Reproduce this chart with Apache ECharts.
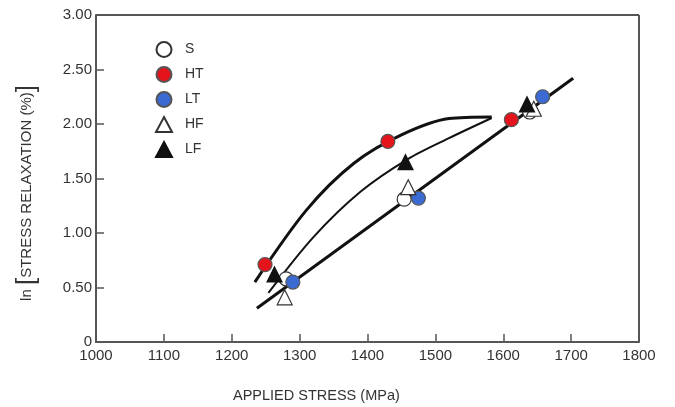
<!DOCTYPE html>
<html><head><meta charset="utf-8">
<script src="https://cdn.jsdelivr.net/npm/echarts@6/dist/echarts.min.js"></script>
<style>html,body{margin:0;padding:0;background:#fff}#c{width:675px;height:407px}</style>
</head><body><div id="c"></div>
<script>
// Data (applied stress MPa, ln stress relaxation %)
const S  = [[1280, 0.58], [1454, 1.31], [1639, 2.11]];
const HT = [[1249, 0.71], [1430, 1.84], [1612, 2.04]];
const LT = [[1290, 0.55], [1475, 1.32], [1658, 2.25]];
const HF = [[1278, 0.41], [1460, 1.42], [1645, 2.14]];
const LF = [[1263, 0.62], [1456, 1.65], [1635, 2.18]];
const lowerLine  = [[1237, 0.31], [1703, 2.42]];
const upperCurve = [[1234, 0.55], [1310, 1.21], [1380, 1.64], [1450, 1.90], [1520, 2.05], [1583, 2.065]];
const middleCurve = [[1254, 0.45], [1320, 0.96], [1390, 1.38], [1460, 1.68], [1520, 1.87], [1583, 2.055]];
const xTicks = [1000, 1100, 1200, 1300, 1400, 1500, 1600, 1700, 1800];
const yTicks = [0, 0.5, 1.0, 1.5, 2.0, 2.5, 3.0];

const chart = echarts.init(document.getElementById('c'), null, {renderer: 'canvas'});
const axisCol = '#555';
const txtCol = '#333';
const font = 'Liberation Sans, Arial, sans-serif';

function scatter(name, data, symbol, color, border) {
  return {
    name, type: 'scatter', data, symbol, symbolSize: symbol === 'triangle' ? 15 : 14,
    itemStyle: {color, borderColor: border, borderWidth: 1.2, opacity: 1}, z: 5
  };
}

chart.setOption({
  animation: false,
  backgroundColor: '#fff',
  grid: {left: 96, right: 36, top: 15, bottom: 65, show: false},
  legend: {
    orient: 'vertical', left: 150, top: 36, itemGap: 8,
    itemWidth: 16, itemHeight: 15,
    textStyle: {fontFamily: font, fontSize: 14, color: txtCol, padding: [0, 0, 0, 8]},
    data: ['S', 'HT', 'LT', 'HF', 'LF']
  },
  xAxis: {
    type: 'value', min: xTicks[0], max: xTicks[xTicks.length - 1], interval: 100,
    axisLine: {show: true, onZero: false, lineStyle: {color: axisCol, width: 2}},
    axisTick: {show: true, inside: true, length: 8, lineStyle: {color: axisCol, width: 1.5}},
    axisLabel: {fontFamily: font, fontSize: 15, color: txtCol, margin: 6, formatter: v => String(v)},
    splitLine: {show: false}
  },
  yAxis: {
    type: 'value', min: yTicks[0], max: yTicks[yTicks.length - 1], interval: 0.5,
    axisLine: {show: true, onZero: false, lineStyle: {color: axisCol, width: 2}},
    axisTick: {show: true, inside: true, length: 8, lineStyle: {color: axisCol, width: 1.5}},
    axisLabel: {fontFamily: font, fontSize: 15, color: txtCol, margin: 4,
      formatter: v => v === 0 ? '0' : v.toFixed(2)},
    splitLine: {show: false}
  },
  graphic: [
    {type: 'line', shape: {x1: 96, y1: 15, x2: 639, y2: 15}, style: {stroke: axisCol, lineWidth: 2}},
    {type: 'line', shape: {x1: 639, y1: 15, x2: 639, y2: 342}, style: {stroke: axisCol, lineWidth: 2}},
    {type: 'text', left: 233, top: 388,
      style: {text: 'APPLIED STRESS (MPa)', font: '14.5px ' + font, fill: txtCol}},
    {type: 'text', x: 27, y: 193, rotation: Math.PI / 2, originX: 0, originY: 0,
      style: {
        text: '{a|ln }{b|[}{a|STRESS RELAXATION (%)}{b|]}',
        align: 'center', verticalAlign: 'middle',
        rich: {
          a: {fontSize: 15, fontFamily: font, fill: txtCol, verticalAlign: 'middle'},
          b: {fontSize: 26, fontFamily: font, fill: txtCol, verticalAlign: 'middle'}
        }
      }}
  ],
  series: [
    {name: 'lower', type: 'line', data: lowerLine, symbol: 'none', lineStyle: {color: '#111', width: 3}, z: 2},
    {name: 'upper', type: 'line', data: upperCurve, symbol: 'none', smooth: 0.3, lineStyle: {color: '#111', width: 3}, z: 2},
    {name: 'middle', type: 'line', data: middleCurve, symbol: 'none', smooth: 0.3, lineStyle: {color: '#111', width: 2}, z: 2},
    scatter('S', S, 'circle', '#fff', '#333'),
    scatter('HT', HT, 'circle', '#e3141c', '#555'),
    scatter('LT', LT, 'circle', '#3a6ad2', '#555'),
    scatter('HF', HF, 'triangle', '#fff', '#333'),
    scatter('LF', LF, 'triangle', '#111', '#111')
  ]
});
</script></body></html>
